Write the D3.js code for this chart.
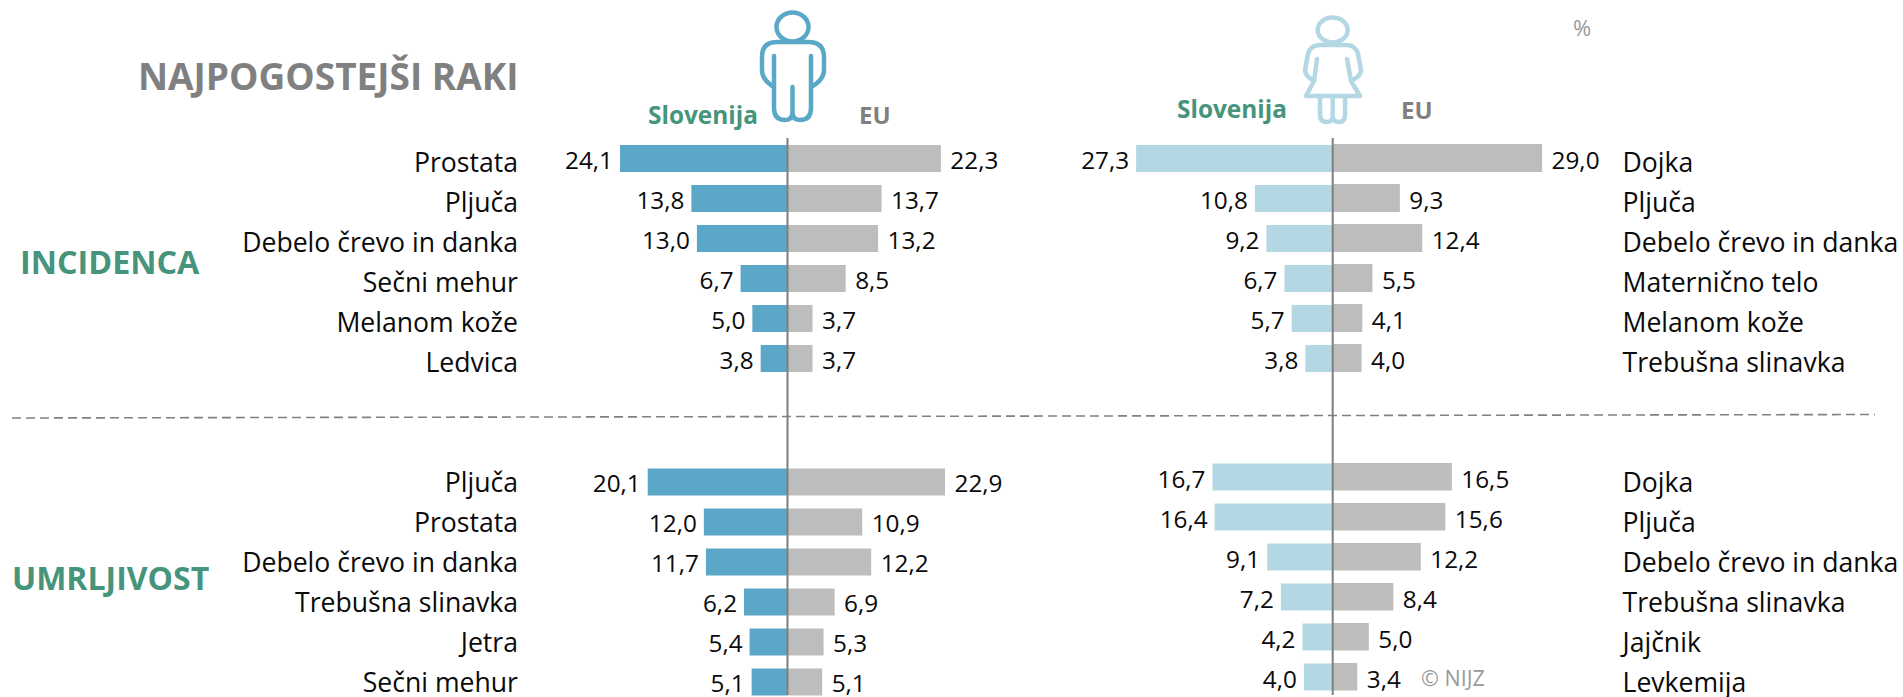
<!DOCTYPE html>
<html><head><meta charset="utf-8">
<script src="https://cdn.jsdelivr.net/npm/d3@7"></script>
<style>html,body{margin:0;padding:0;background:#fff;overflow:hidden}svg{display:block}text{font-family:"Open Sans",sans-serif}</style>
</head><body><svg id="c" width="1903" height="697"></svg>
<script>
const incMaleCats=["Prostata","Pljuča","Debelo črevo in danka","Sečni mehur","Melanom kože","Ledvica"];
const incMaleSlo=[24.1,13.8,13.0,6.7,5.0,3.8];
const incMaleEU=[22.3,13.7,13.2,8.5,3.7,3.7];
const incFemCats=["Dojka","Pljuča","Debelo črevo in danka","Maternično telo","Melanom kože","Trebušna slinavka"];
const incFemSlo=[27.3,10.8,9.2,6.7,5.7,3.8];
const incFemEU=[29.0,9.3,12.4,5.5,4.1,4.0];
const morMaleCats=["Pljuča","Prostata","Debelo črevo in danka","Trebušna slinavka","Jetra","Sečni mehur"];
const morMaleSlo=[20.1,12.0,11.7,6.2,5.4,5.1];
const morMaleEU=[22.9,10.9,12.2,6.9,5.3,5.1];
const morFemCats=["Dojka","Pljuča","Debelo črevo in danka","Trebušna slinavka","Jajčnik","Levkemija"];
const morFemSlo=[16.7,16.4,9.1,7.2,4.2,4.0];
const morFemEU=[16.5,15.6,12.2,8.4,5.0,3.4];

const COL={male:"#5aa7c7",fem:"#b4d7e4",eu:"#bdbdbd",green:"#46947b",gray:"#808080",ink:"#0a0a0a"};
const svg=d3.select("#c");
const fmt=d3.format(".1f");
const lab=v=>fmt(v).replace(".",",");
const band=d3.scalePoint().domain(d3.range(6)).range([0,200]);

function panel(o){
  const g=svg.append("g");
  const xs=d3.scaleLinear().domain([0,30]).range([0,-o.kS*30]);
  const xe=d3.scaleLinear().domain([0,30]).range([0,o.kE*30]);
  const idx=d3.range(6);
  g.selectAll("rect.s").data(idx).join("rect").attr("class","s")
    .attr("x",i=>o.cx+xs(o.slo[i])).attr("width",i=>-xs(o.slo[i]))
    .attr("y",i=>o.y0+band(i)).attr("height",27).attr("fill",o.col);
  g.selectAll("rect.e").data(idx).join("rect").attr("class","e")
    .attr("x",o.cx).attr("width",i=>xe(o.eu[i]))
    .attr("y",i=>o.y0-o.euUp+band(i)).attr("height",27+o.euUp).attr("fill",COL.eu);
  g.selectAll("text.vs").data(idx).join("text").attr("class","vs")
    .attr("x",i=>o.cx+xs(o.slo[i])-7).attr("y",i=>o.y0+band(i)+o.dv)
    .attr("text-anchor","end").attr("font-size",24.3).attr("fill",COL.ink).text(i=>lab(o.slo[i]));
  g.selectAll("text.ve").data(idx).join("text").attr("class","ve")
    .attr("x",i=>o.cx+xe(o.eu[i])+9.5).attr("y",i=>o.y0+band(i)+o.dv)
    .attr("font-size",24.3).attr("fill",COL.ink).text(i=>lab(o.eu[i]));
  g.selectAll("text.c").data(idx).join("text").attr("class","c")
    .attr("x",o.lx).attr("y",i=>o.ly+band(i))
    .attr("text-anchor",o.anchor).attr("font-size",26.6).attr("fill",COL.ink).text(i=>o.cats[i]);
}
const M={cx:787,col:COL.male,kS:6.93,kE:6.9,lx:518,anchor:"end"};
const F={cx:1332.7,col:COL.fem,kS:7.2,kE:7.22,lx:1622.5,anchor:"start"};
panel({...M,y0:145,euUp:0,dv:24,ly:172,cats:incMaleCats,slo:incMaleSlo,eu:incMaleEU});
panel({...F,y0:145,euUp:1,dv:24,ly:172,cats:incFemCats,slo:incFemSlo,eu:incFemEU});
panel({...M,y0:468.5,euUp:0,dv:23.5,ly:491.5,cats:morMaleCats,slo:morMaleSlo,eu:morMaleEU});
panel({...F,y0:463.5,euUp:0.5,dv:24.5,ly:491.5,cats:morFemCats,slo:morFemSlo,eu:morFemEU});

// axes
[787.5,1332.7].forEach(x=>svg.append("line").attr("x1",x).attr("x2",x).attr("y1",138).attr("y2",695).attr("stroke","#7f7f7f").attr("stroke-width",2));
// divider
svg.append("line").attr("x1",12).attr("y1",418).attr("x2",1875).attr("y2",414.5).attr("stroke","#808080").attr("stroke-width",1.6).attr("stroke-dasharray","9 5");

function t(x,y,s,size,fill,w,a){svg.append("text").attr("x",x).attr("y",y).attr("font-size",size).attr("fill",fill).attr("font-weight",w||400).attr("text-anchor",a||"start").text(s);}
t(138,90,"NAJPOGOSTEJŠI RAKI",37,"#808080",700);
t(20,274,"INCIDENCA",32.3,COL.green,700);
t(12,590,"UMRLJIVOST",32,COL.green,700);
t(648,124,"Slovenija",24.4,COL.green,700);
t(859,124,"EU",24,"#808080",700);
t(1177,118,"Slovenija",24.4,COL.green,700);
t(1401,119,"EU",24,"#808080",700);
t(1573,36,"%",22,"#999",400);
t(1421,686,"© NIJZ",21.5,"#999",400);

// person icons
const mi=svg.append("g").attr("fill","none").attr("stroke",COL.male).attr("stroke-width",4.5).attr("stroke-linecap","round").attr("stroke-linejoin","round");
mi.append("ellipse").attr("cx",792.5).attr("cy",27).attr("rx",16).attr("ry",14.5);
mi.append("path").attr("d","M774 56V108Q774 120 785 120Q792.5 120 792.5 112Q792.5 120 800 120Q811 120 811 108V56M792.5 112V87M774 87Q762 80 762 70V57Q762 42 777 42H808Q824 42 824 57V70Q824 80 811 87");
const fi=svg.append("g").attr("fill","none").attr("stroke",COL.fem).attr("stroke-width",4.5).attr("stroke-linecap","round").attr("stroke-linejoin","round");
fi.append("ellipse").attr("cx",1332.7).attr("cy",30).attr("rx",15).attr("ry",12.5);
fi.append("path").attr("d","M1317 59L1314 81L1306 96H1360L1351 81L1347 59M1314 81Q1305 76 1305 70L1308 54Q1310 45 1320 45H1346Q1356 45 1358 54L1361 70Q1361 76 1351 81M1320 97V115Q1320 122 1327 122Q1332.7 122 1332.7 116V97M1332.7 116Q1332.7 122 1339 122Q1345 122 1345 115V97");
</script></body></html>
